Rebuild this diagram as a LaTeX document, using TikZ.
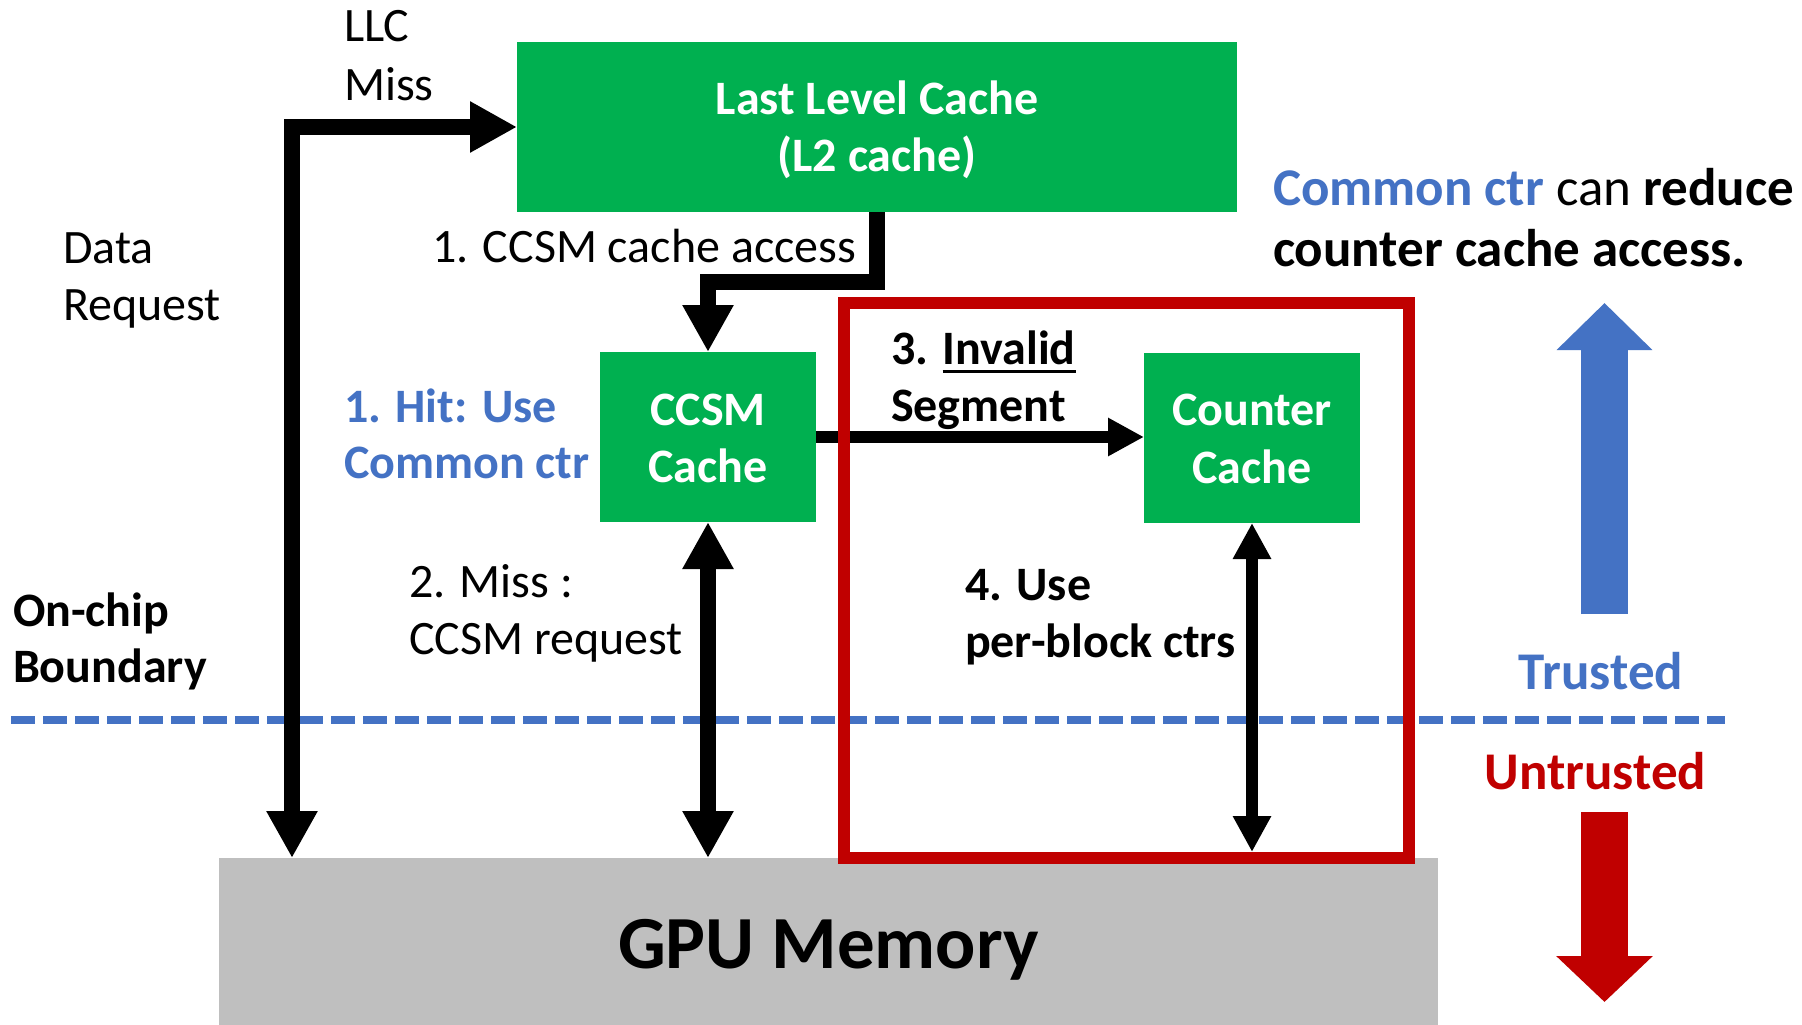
\documentclass[tikz,border=0pt]{standalone}
\usepackage{fontspec}
\setmainfont{Carlito}
\usetikzlibrary{arrows.meta}

\definecolor{ccgreen}{HTML}{00B050}
\definecolor{ccblue}{HTML}{4472C4}
\definecolor{ccred}{HTML}{C00000}
\definecolor{memgrey}{HTML}{BFBFBF}

% word with a hand-placed underline
\newcommand\ulword[1]{\setbox0\hbox{#1}\rlap{\rule[-8.5pt]{\wd0}{3pt}}#1}

\tikzset{
  bigtip/.tip={Triangle[length=47pt,width=48pt]},
  smalltip/.tip={Triangle[length=36pt,width=36pt]},
}

\begin{document}
\begin{tikzpicture}[x=1pt,y=-1pt,
  every node/.style={inner sep=0pt, outer sep=0pt},
  lbl/.style={anchor=base west, font=\fontsize{48}{57}\selectfont},
  boldlbl/.style={lbl, font=\fontsize{48}{57}\selectfont\bfseries},
  biglbl/.style={anchor=base west, font=\fontsize{53}{60}\selectfont},
  boxlbl/.style={anchor=base, text=white, font=\fontsize{48}{57}\selectfont\bfseries},
  cachebox/.style={fill=ccgreen, minimum width=216pt, minimum height=170pt},
  fatline/.style={line width=16pt, line join=miter, line cap=butt},
  thinline/.style={line width=12pt, line cap=butt},
]
\fill[white] (0,0) rectangle (1802,1025);
\useasboundingbox (0,0) rectangle (1802,1025);

% on-chip boundary
\draw[ccblue, line width=8pt, dash pattern=on 24pt off 8pt] (11,720) -- (1725,720);

% memory
\node[fill=memgrey, minimum width=1219pt, minimum height=174pt,
      text height=46pt, text depth=0pt,
      font=\fontsize{75}{90}\selectfont\bfseries] (mem) at (828.5,945) {GPU Memory};

% caches
\node[fill=ccgreen, minimum width=720pt, minimum height=170pt] (llc) at (877,127) {};
\node[boxlbl] (llct1) at (877,114) {Last Level Cache};
\node[boxlbl] (llct2) at (877,171) {(L2 cache)};

\node[cachebox] (ccsm) at (708,437) {};
\node[boxlbl] (ccsmt1) at (708,425) {CCSM};
\node[boxlbl] (ccsmt2) at (708,482) {Cache};

\node[cachebox] (ctr) at (1252,438) {};
\node[boxlbl] (ctrt1) at (1252,425) {Counter};
\node[boxlbl] (ctrt2) at (1252,483) {Cache};

% connectors
\coordinate (drcorner) at (292,127);
\draw[fatline, {bigtip}-{bigtip}] (llc.west) -- (drcorner) -- (drcorner |- mem.north);
\draw[fatline, -{bigtip}] (llc.south) -- ++(0,70) -| (ccsm.north);
\draw[fatline, {bigtip}-{bigtip}] (ccsm.south) -- (ccsm.south |- mem.north);
\draw[thinline, -{smalltip}] (ccsm.east) -- (ccsm.east -| ctr.west);

% region served by per-block counters
\node[draw=ccred, line width=12pt, minimum width=565pt, minimum height=555pt] (zone) at (1126.5,580.5) {};
\coordinate (zonefloor) at ([yshift=6pt]zone.south);
\draw[thinline, {smalltip}-{smalltip}] (ctr.south) -- (ctr.south |- zonefloor);

% trust arrows
\coordinate (upbase) at (1604.5,614);
\coordinate (uptip) at (1604.5,303);
\coordinate (downbase) at (1604.5,812);
\coordinate (downtip) at (1604.5,1002);
\draw[ccblue, line width=47pt, line cap=butt, -{Triangle[length=47pt,width=93pt]}] (upbase) -- (uptip);
\draw[ccred, line width=47pt, line cap=butt, -{Triangle[length=46pt,width=94pt]}] (downbase) -- (downtip);

% labels
\node[lbl] (llcmiss1) at (344,42) {LLC};
\node[lbl] (llcmiss2) at (344,100) {Miss};
\node[lbl] (datareq1) at (63,263) {Data};
\node[lbl] (datareq2) at (63,320) {Request};
\node[lbl] (access) at (432,262) {1. CCSM cache access};
\node[boldlbl, text=ccblue] (hit1) at (344,422) {1. Hit: Use};
\node[boldlbl, text=ccblue] (hit2) at (344,478) {Common ctr};
\node[boldlbl] (inval1) at (891,364) {3. \ulword{Invalid}};
\node[boldlbl] (inval2) at (891,421) {Segment};
\node[boldlbl] (onchip1) at (13,626) {On-chip};
\node[boldlbl] (onchip2) at (13,682) {Boundary};
\node[lbl] (miss1) at (409,597) {2. Miss :};
\node[lbl] (miss2) at (409,654) {CCSM request};
\node[boldlbl] (use1) at (965,600) {4. Use};
\node[boldlbl] (use2) at (965,657) {per-block ctrs};
\node[biglbl, anchor=base, text=ccblue, font=\fontsize{53}{60}\selectfont\bfseries] (trusted) at (1601,689) {Trusted};
\node[biglbl, anchor=base, text=ccred, font=\fontsize{53}{60}\selectfont\bfseries] (untrusted) at (1595.5,789) {Untrusted};
\node[biglbl] (note1) at (1273,205) {{\bfseries\color{ccblue}Common ctr} can {\bfseries reduce}};
\node[biglbl, font=\fontsize{53}{60}\selectfont\bfseries] (note2) at (1273,266) {counter cache access.};
\end{tikzpicture}
\end{document}
